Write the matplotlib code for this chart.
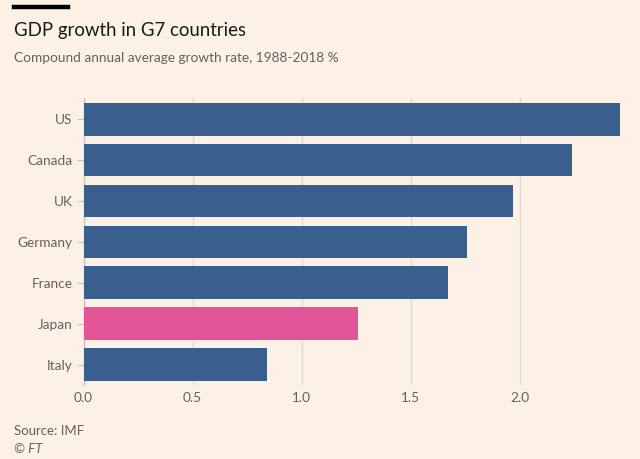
import matplotlib
matplotlib.use("Agg")
import matplotlib.pyplot as plt
from matplotlib.lines import Line2D

countries = ["US", "Canada", "UK", "Germany", "France", "Japan", "Italy"]
growth = [2.46, 2.24, 1.97, 1.76, 1.67, 1.26, 0.84]
highlight = "Japan"
xticks = [0.0, 0.5, 1.0, 1.5, 2.0]
xtick_labels = ["0.0", "0.5", "1.0", "1.5", "2.0"]

BG = "#fdf1e6"
BLUE = "#3a5e8e"
PINK = "#e35397"
TXT = "#66605c"
GRID = "#e0d8d2"

plt.rcParams['font.family'] = ['Lato', 'DejaVu Sans']

fig = plt.figure(figsize=(6.4, 4.59), dpi=100, facecolor=BG)
ax = fig.add_axes([83.5/640, 1-385/459, (621-83.5)/640, (385-98)/459])
ax.set_facecolor(BG)

ypos = list(range(len(countries)))
colors = [PINK if c == highlight else BLUE for c in countries]
ax.barh(ypos, growth, height=0.8, color=colors, zorder=3)
ax.set_yticks(ypos)
ax.set_yticklabels(countries)
ax.set_ylim(len(countries) - 0.5, -0.52)
ax.set_xlim(0, 2.465)
ax.set_xticks(xticks)
ax.set_xticklabels(xtick_labels)
ax.grid(axis='x', color=GRID, linewidth=1, zorder=0)
for s in ["top", "right", "bottom"]:
    ax.spines[s].set_visible(False)
ax.spines["left"].set_color("#ccc3bc")
ax.spines["left"].set_linewidth(1)
ax.tick_params(axis='y', length=5, color="#ccc3bc", labelcolor=TXT, labelsize=9.8, pad=3)
ax.tick_params(axis='x', length=0, labelcolor=TXT, labelsize=9.8, pad=5)

fig.add_artist(Line2D([14/640, 68/640], [1-7/459, 1-7/459], color="black", linewidth=3.2))
fig.text(14/640, 1-36/459, "GDP growth in G7 countries", fontsize=13.4, color="#1a1a1a", va="baseline")
fig.text(14/640, 1-62/459, "Compound annual average growth rate, 1988-2018 %", fontsize=9.8, color=TXT, va="baseline")
fig.text(14/640, 1-435/459, "Source: IMF", fontsize=9.5, color=TXT, va="baseline")
fig.text(14/640, 1-453/459, "© FT", fontsize=9.5, color=TXT, style="italic", va="baseline")

fig.savefig("out.png", dpi=100, facecolor=BG)
